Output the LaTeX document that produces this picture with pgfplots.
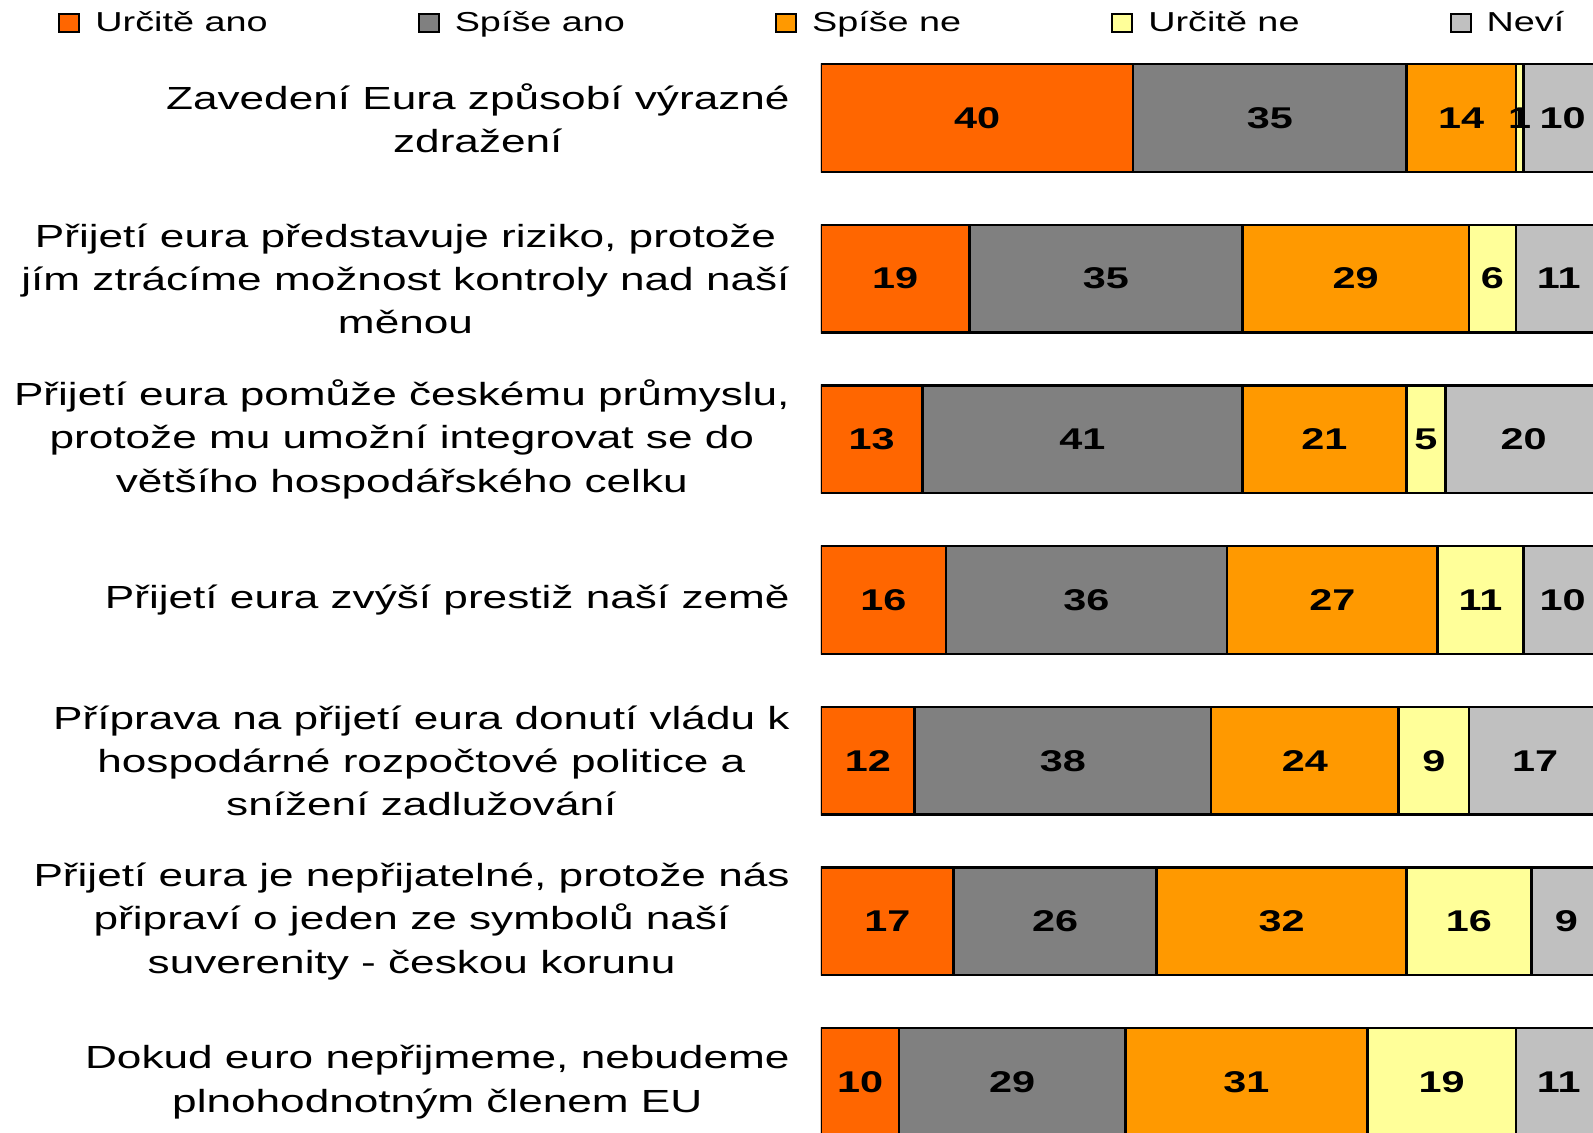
\documentclass[border=0pt]{standalone}
\usepackage{pgfplots}
\usepackage{pgfplotstable}
\pgfplotsset{compat=1.18}
\usepackage{fontspec}
\setmainfont{Liberation Sans}[FakeStretch=1.38]

\definecolor{cUA}{HTML}{FF6600}
\definecolor{cSA}{HTML}{808080}
\definecolor{cSN}{HTML}{FF9900}
\definecolor{cUN}{HTML}{FFFF99}
\definecolor{cNV}{HTML}{C0C0C0}

% answers in percent, one row per statement (0 = top)
\pgfplotstableread{
row ua sa sn un nv
0 40 35 14 1 10
1 19 35 29 6 11
2 13 41 21 5 20
3 16 36 27 11 10
4 12 38 24 9 17
5 17 26 32 16 9
6 10 29 31 19 11
}\survey

% value labels, placed in the middle of each segment
\pgfplotstableread{
x y v
20 0 40
57.5 0 35
82 0 14
89.5 0 1
95 0 10
9.5 1 19
36.5 1 35
68.5 1 29
86 1 6
94.5 1 11
6.5 2 13
33.5 2 41
64.5 2 21
77.5 2 5
90 2 20
8 3 16
34 3 36
65.5 3 27
84.5 3 11
95 3 10
6 4 12
31 4 38
62 4 24
78.5 4 9
91.5 4 17
8.5 5 17
30 5 26
59 5 32
83 5 16
95.5 5 9
5 6 10
24.5 6 29
54.5 6 31
79.5 6 19
94.5 6 11
}\labels

\pgfplotsset{
  frame/.style={
    width=386pt, height=566.5pt, scale only axis,
    xmin=0, xmax=98.9, ymin=-0.7337, ymax=6.3168,
    y dir=reverse, enlargelimits=false,
  },
}

\begin{document}
\begin{tikzpicture}
\begin{axis}[
    frame, name=ax,
    xbar stacked, bar width=0.67,
    axis line style={draw=none},
    xtick=\empty,
    ytick={0,...,6},
    major tick length=0pt,
    ytick style={draw=none},
    yticklabels={
      {Zavedení Eura způsobí výrazné\\zdražení},
      {Přijetí eura představuje riziko, protože\\jím ztrácíme možnost kontroly nad naší\\měnou},
      {Přijetí eura pomůže českému průmyslu,\\protože mu umožní integrovat se do\\většího hospodářského celku},
      {Přijetí eura zvýší prestiž naší země},
      {Příprava na přijetí eura donutí vládu k\\hospodárné rozpočtové politice a\\snížení zadlužování},
      {Přijetí eura je nepřijatelné, protože nás\\připraví o jeden ze symbolů naší\\suverenity - českou korunu},
      {Dokud euro nepřijmeme, nebudeme\\plnohodnotným členem EU}
    },
    yticklabel style={font=\fontsize{16}{21.6}\selectfont, align=center,
      inner sep=0pt, xshift=-15.5pt},
    every axis plot/.append style={draw=black, line width=1.2pt},
    legend columns=5,
    legend image code/.code={\draw[#1, line width=1pt] (0pt,-4.5pt) rectangle (10pt,4.5pt);},
    legend style={at={(axis description cs:-0.9883,0.980)}, anchor=west,
      draw=none, fill=none, inner sep=0pt,
      font=\fontsize{13.7}{16}\selectfont,
      nodes={inner sep=0pt},
      /tikz/every odd column/.append style={column sep=7.5pt},
      /tikz/every even column/.append style={column sep=75pt}},
]
\addplot[fill=cUA] table[x=ua, y=row] {\survey};
\addplot[fill=cSA] table[x=sa, y=row] {\survey};
\addplot[fill=cSN] table[x=sn, y=row] {\survey};
\addplot[fill=cUN] table[x=un, y=row] {\survey};
\addplot[fill=cNV] table[x=nv, y=row] {\survey};
\legend{Určitě ano, Spíše ano, Spíše ne, Určitě ne, Neví}
\end{axis}
\begin{axis}[frame, hide axis]
\addplot[only marks, mark=none, nodes near coords, nodes near coords align=center,
    point meta=explicit symbolic,
    every node near coord/.append style={font=\bfseries\fontsize{15}{17}\selectfont,
      anchor=center, text=black}]
    table[x=x, y=y, meta=v] {\labels};
\end{axis}
\pgfresetboundingbox
\path ([xshift=-410.5pt]ax.south west) rectangle (ax.north east);
\end{tikzpicture}
\end{document}
